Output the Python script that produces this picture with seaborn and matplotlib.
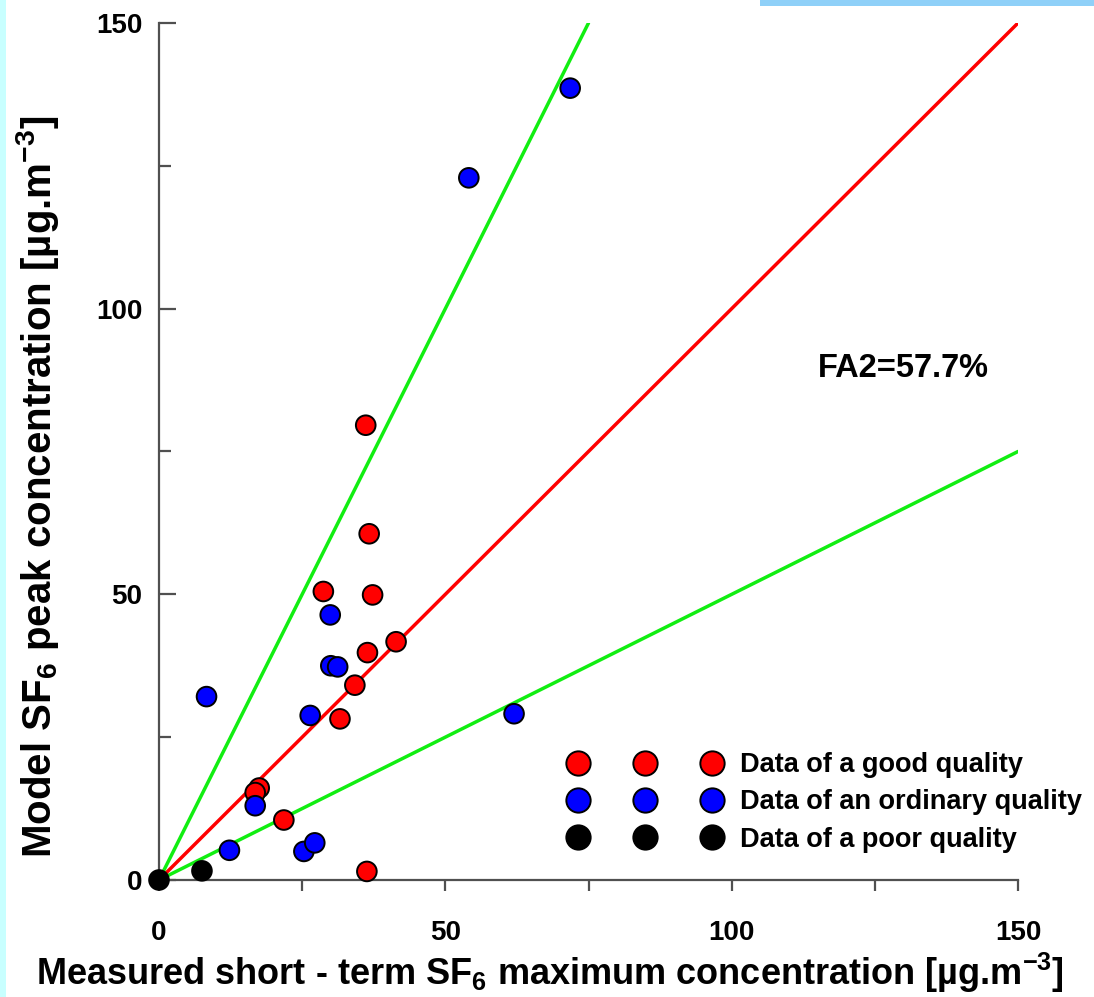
import matplotlib
matplotlib.use("Agg")
import matplotlib.pyplot as plt
from matplotlib.lines import Line2D
from matplotlib.patches import Rectangle
import numpy as np
import pandas as pd
import seaborn as sns

# ---- data ----
good_x = [28.7, 37.3, 41.4, 36.4, 34.2, 31.6, 17.5, 16.8, 21.8, 36.3, 36.1, 36.7]
good_y = [50.5, 49.9, 41.7, 39.8, 34.1, 28.2, 16.1, 15.3, 10.5, 1.5, 79.6, 60.6]
ordinary_x = [29.9, 30.0, 31.2, 8.3, 26.4, 16.8, 12.3, 25.3, 27.2, 54.1, 71.8, 62.0]
ordinary_y = [46.4, 37.5, 37.3, 32.1, 28.8, 13.0, 5.2, 5.0, 6.5, 122.9, 138.6, 29.1]
poor_x = [7.5, 0.0]
poor_y = [1.6, 0.0]

quality_labels = ["Data of a good quality", "Data of an ordinary quality", "Data of a poor quality"]
quality_colors = ["#ff0000", "#0000ff", "#000000"]

line_x = [0, 150]
one_to_one = [0, 150]
factor2_upper_x = [0, 75]
factor2_upper_y = [0, 150]
factor2_lower_y = [0, 75]

ticks_major = [0, 50, 100, 150]
ticks_minor = [25, 75, 125]
fa2_text = "FA2=57.7%"

df = pd.DataFrame({
    "measured": good_x + ordinary_x + poor_x,
    "model": good_y + ordinary_y + poor_y,
    "quality": [quality_labels[0]] * len(good_x) + [quality_labels[1]] * len(ordinary_x)
               + [quality_labels[2]] * len(poor_x),
})

sns.set_theme(style="white")
plt.rcParams["font.family"] = ["Liberation Sans", "DejaVu Sans"]
plt.rcParams["font.weight"] = "bold"
plt.rcParams["text.color"] = "black"
plt.rcParams["axes.labelcolor"] = "black"
plt.rcParams["mathtext.fontset"] = "custom"
plt.rcParams["mathtext.rm"] = "Liberation Sans:bold"
plt.rcParams["mathtext.bf"] = "Liberation Sans:bold"
plt.rcParams["mathtext.default"] = "bf"

fig = plt.figure(figsize=(10.94, 9.97), dpi=100)
ax = fig.add_axes([159 / 1094, 117 / 997, 859 / 1094, 857 / 997])

# reference lines
sns.lineplot(x=line_x, y=one_to_one, ax=ax, color="#ff0000", linewidth=2.5, zorder=2)
sns.lineplot(x=factor2_upper_x, y=factor2_upper_y, ax=ax, color="#11ee11", linewidth=2.5, zorder=2)
sns.lineplot(x=line_x, y=factor2_lower_y, ax=ax, color="#11ee11", linewidth=2.5, zorder=2)

sns.scatterplot(data=df, x="measured", y="model", hue="quality",
                palette=dict(zip(quality_labels, quality_colors)),
                s=200, edgecolor="black", linewidth=1.4, ax=ax, legend=False,
                zorder=3, clip_on=False)

ax.set_xlim(0, 150)
ax.set_ylim(0, 150)
ax.set_xticks(ticks_major)
ax.set_yticks(ticks_major)
ax.set_xticks(ticks_minor, minor=True)
ax.set_yticks(ticks_minor, minor=True)
ax.set_xticklabels([str(t) for t in ticks_major])
ax.set_yticklabels([str(t) for t in ticks_major])

for side in ["top", "right"]:
    ax.spines[side].set_visible(False)
for side in ["left", "bottom"]:
    ax.spines[side].set_color("#505050")
    ax.spines[side].set_linewidth(1.6)

ax.tick_params(axis="x", which="major", direction="out", length=8, width=1.6,
               color="#505050", labelcolor="black", pad=21, labelsize=20)
ax.tick_params(axis="x", which="minor", direction="out", length=8, width=1.6, color="#505050")
ax.tick_params(axis="y", which="major", direction="in", length=12.5, width=1.6,
               color="#505050", labelcolor="black", pad=12, labelsize=20)
ax.tick_params(axis="y", which="minor", direction="in", length=8.5, width=1.6, color="#505050")
ax.tick_params(bottom=True, left=True, which="both")
for lab in ax.get_xticklabels() + ax.get_yticklabels():
    lab.set_fontweight("bold")

ax.set_xlabel(r"Measured short - term SF$_6$ maximum concentration [µg.m$^{-3}$]",
              fontsize=26, fontweight="bold")
ax.set_ylabel(r"Model SF$_6$ peak concentration [µg.m$^{-3}$]",
              fontsize=29, fontweight="bold")
ax.xaxis.set_label_coords(0.455, -0.083)
ax.yaxis.set_label_coords(-0.114, 0.4586)

ax.text(115, 89.5, fa2_text, fontsize=23.5, fontweight="bold", va="center", ha="left")

handles = [Line2D([0], [0], linestyle="none", marker="o", markersize=17.5,
                  markerfacecolor=c, markeredgecolor="black", markeredgewidth=1.4)
           for c in quality_colors]
leg = ax.legend(handles, quality_labels, numpoints=3, loc="center left",
                bbox_to_anchor=(0.4785, 0.0905), frameon=False, fontsize=19.5,
                handlelength=5.55, handletextpad=0.74, labelspacing=0.42,
                borderpad=0, borderaxespad=0)
for t in leg.get_texts():
    t.set_fontweight("bold")
    t.set_color("black")

# slide decorations around the chart
fig.patches.append(Rectangle((0, 0), 6 / 1094, 1, transform=fig.transFigure,
                             facecolor="#c8ffff", edgecolor="none", zorder=0))
fig.patches.append(Rectangle((760 / 1094, 991 / 997), 334 / 1094, 6 / 997,
                             transform=fig.transFigure, facecolor="#8fd0f8",
                             edgecolor="none", zorder=0))

fig.savefig("out.png", dpi=100)
